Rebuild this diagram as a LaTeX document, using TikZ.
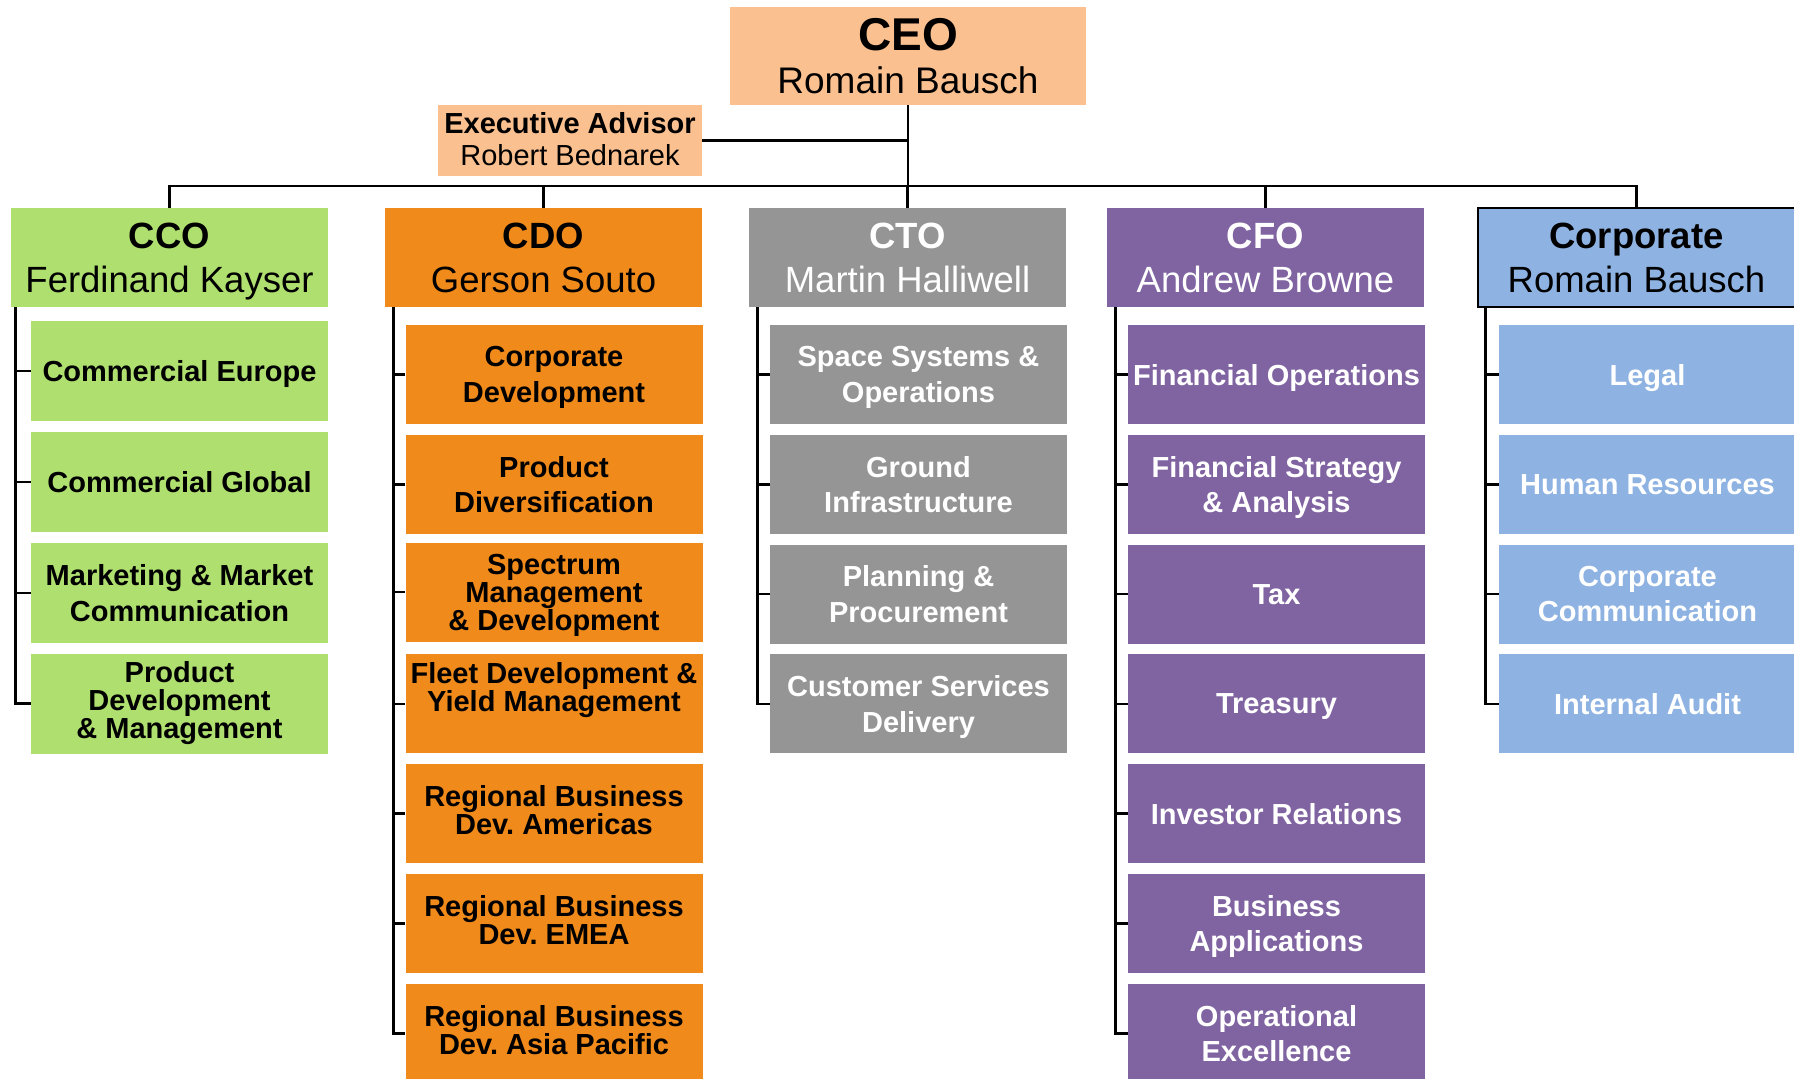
\documentclass[tikz,border=0pt]{standalone}
\usepackage{fontspec}
\setmainfont{Liberation Sans}
\frenchspacing
\definecolor{peach}{HTML}{FAC090}
\definecolor{ccogreen}{HTML}{AFDF6F}
\definecolor{cdoorange}{HTML}{F08A1A}
\definecolor{ctogray}{HTML}{959595}
\definecolor{cfopurple}{HTML}{8064A2}
\definecolor{corpblue}{HTML}{8EB3E2}
\tikzset{
  orgbox/.style={rectangle, inner sep=0pt, align=center, text depth=0pt},
  kid/.style={orgbox, minimum width=297pt, minimum height=99pt, font=\fontsize{29}{35.5}\selectfont\bfseries},
  kidtight/.style={font=\fontsize{29}{28}\selectfont\bfseries},
  head/.style={orgbox, minimum width=317pt, minimum height=99pt, font=\fontsize{36.5}{44}\selectfont},
  conn/.style={line width=2.7pt, line join=miter},
  gr/.style={fill=ccogreen, text=black},
  orng/.style={fill=cdoorange, text=black},
  gry/.style={fill=ctogray, text=white},
  pur/.style={fill=cfopurple, text=white},
  blu/.style={fill=corpblue, text=white},
  raised/.style={text depth=7pt},
}
\begin{document}
\begin{tikzpicture}[x=1pt,y=-1pt]
\useasboundingbox[fill=white] (0,0) rectangle (1794,1079);

% top
\node[orgbox, fill=peach, minimum width=356pt, minimum height=98pt, font=\fontsize{37}{43}\selectfont, text depth=-5pt] (ceo) at (908,56)
  {{\fontsize{46}{43}\selectfont\bfseries CEO}\\Romain Bausch};
\node[orgbox, fill=peach, minimum width=264pt, minimum height=71pt, font=\fontsize{29}{32}\selectfont, text depth=4pt] (exec) at (570,140.5)
  {{\bfseries Executive Advisor}\\Robert Bednarek};

% level 2
\node[head, gr] (cco) at (169.5,257.5) {{\bfseries CCO}\\Ferdinand Kayser};
\node[head, orng] (cdo) at (543.5,257.5) {{\bfseries CDO}\\Gerson Souto};
\node[head, gry] (cto) at (907.5,257.5) {{\bfseries CTO}\\Martin Halliwell};
\node[head, pur] (cfo) at (1265.5,257.5) {{\bfseries CFO}\\Andrew Browne};
\node[head, fill=corpblue, text=black, draw=black, line width=2.5pt] (corp) at (1636.5,257.5) {{\bfseries Corporate}\\Romain Bausch};

% CCO children
\node[kid, gr, minimum height=100pt] (cco1) at (179.5,371) {Commercial Europe};
\node[kid, gr, minimum height=100pt] (cco2) at (179.5,482) {Commercial Global};
\node[kid, gr, minimum height=100pt] (cco3) at (179.5,593) {Marketing \& Market\\Communication};
\node[kid, gr, kidtight, raised, minimum height=100pt] (cco4) at (179.5,703.5) {Product\\Development\\\& Management};

% CDO children
\node[kid, orng] (cdo1) at (554,374.5) {Corporate\\Development};
\node[kid, orng] (cdo2) at (554,484.3) {Product\\Diversification};
\node[kid, orng, kidtight] (cdo3) at (554,592.1) {Spectrum\\Management\\\& Development};
\node[kid, orng] (cdo4) at (554,703.9) {};
\node[orgbox, kidtight, text=black] (cdo4t) at ([yshift=17pt]cdo4.center) {Fleet Development \&\\Yield Management};
\node[kid, orng, kidtight, raised] (cdo5) at (554,813.7) {Regional Business\\Dev. Americas};
\node[kid, orng, kidtight, raised] (cdo6) at (554,923.5) {Regional Business\\Dev. EMEA};
\node[kid, orng, kidtight, raised] (cdo7) at (554,1033.3) {Regional Business\\Dev. Asia Pacific};

% CTO children
\node[kid, gry] (cto1) at (918.5,374.5) {Space Systems \&\\Operations};
\node[kid, gry] (cto2) at (918.5,484.3) {Ground\\Infrastructure};
\node[kid, gry] (cto3) at (918.5,594.1) {Planning \&\\Procurement};
\node[kid, gry] (cto4) at (918.5,703.9) {Customer Services\\Delivery};

% CFO children
\node[kid, pur] (cfo1) at (1276.5,374.5) {Financial Operations};
\node[kid, pur] (cfo2) at (1276.5,484.3) {Financial Strategy\\\& Analysis};
\node[kid, pur] (cfo3) at (1276.5,594.1) {Tax};
\node[kid, pur] (cfo4) at (1276.5,703.9) {Treasury};
\node[kid, pur] (cfo5) at (1276.5,813.7) {Investor Relations};
\node[kid, pur] (cfo6) at (1276.5,923.5) {Business\\Applications};
\node[kid, pur] (cfo7) at (1276.5,1033.3) {Operational\\Excellence};

% Corporate children
\node[kid, blu] (corp1) at (1647.5,374.5) {Legal};
\node[kid, blu] (corp2) at (1647.5,484.3) {Human Resources};
\node[kid, blu] (corp3) at (1647.5,594.1) {Corporate\\Communication};
\node[kid, blu] (corp4) at (1647.5,703.9) {Internal Audit};

% connectors top
\coordinate (bus) at (0,186);
\draw[conn] (ceo.south) -- (ceo.south |- bus);
\draw[conn] (exec.east) -- (exec.east -| ceo.south);
\draw[conn] (cco.north) -- (cco.north |- bus) -- (corp.north |- bus) -- (corp.north);
\foreach \n in {cdo,cto,cfo} \draw[conn] (\n.north) -- (\n.north |- bus);

% spines
\coordinate (ccoS) at ([xshift=5pt]cco.south west);
\draw[conn] (ccoS) |- (cco4.west);
\foreach \i in {1,2,3} \draw[conn] (cco\i.west) -- (cco\i.west -| ccoS);

\coordinate (cdoS) at ([xshift=9pt]cdo.south west);
\draw[conn] (cdoS) |- (cdo7.west);
\foreach \i in {1,...,6} \draw[conn] (cdo\i.west) -- (cdo\i.west -| cdoS);

\coordinate (ctoS) at ([xshift=9pt]cto.south west);
\draw[conn] (ctoS) |- (cto4.west);
\foreach \i in {1,2,3} \draw[conn] (cto\i.west) -- (cto\i.west -| ctoS);

\coordinate (cfoS) at ([xshift=9pt]cfo.south west);
\draw[conn] (cfoS) |- (cfo7.west);
\foreach \i in {1,...,6} \draw[conn] (cfo\i.west) -- (cfo\i.west -| cfoS);

\coordinate (corpS) at ([xshift=9pt]corp.south west);
\draw[conn] (corpS) |- (corp4.west);
\foreach \i in {1,2,3} \draw[conn] (corp\i.west) -- (corp\i.west -| corpS);
\end{tikzpicture}
\end{document}
